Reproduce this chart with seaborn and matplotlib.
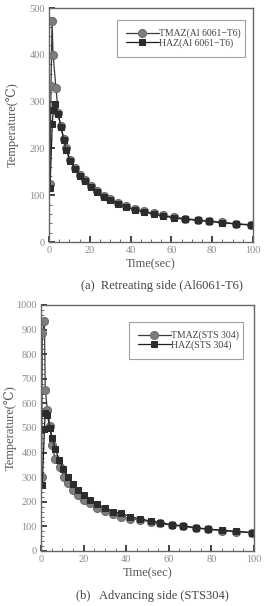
import matplotlib
matplotlib.use("Agg")
import matplotlib.pyplot as plt
import seaborn as sns
import pandas as pd
from matplotlib.ticker import MultipleLocator

# ---- data ----
a_haz_t = [0.5, 1.6, 2.1, 3.1, 4.4, 5.9, 7.2, 8.3, 10.4, 12.6, 15.2, 17.8, 20.4, 23.4, 26.8, 30, 34, 37.7, 42, 46.6, 51.3, 56, 61.4, 66.8, 72.9, 78.6, 85, 91.7, 98.9]
a_haz_T = [115, 253, 282, 294, 273, 245, 219, 197, 174, 157, 141, 130, 117, 107, 97, 90, 81, 75, 68, 65, 59, 56, 51, 49, 46, 44, 41, 38.5, 36]
a_tmaz_t = [0.4, 1.0, 1.5, 2.0, 3.4, 4.5, 5.9, 7.2, 8.3, 10.4, 12.6, 15.2, 17.8, 20.4, 23.4, 26.8, 30, 34, 37.7, 42, 46.6, 51.3, 56, 61.4, 66.8, 72.9, 78.6, 85, 91.7, 98.9]
a_tmaz_T = [125, 333, 472, 400, 330, 275, 247, 221, 200, 176, 159, 143, 132, 119, 109, 99, 92, 83, 77, 70, 66, 61, 57, 53, 50, 47, 45, 42, 39, 37]

b_haz_t = [0.6, 1.6, 2.0, 3.0, 4.2, 5.3, 6.7, 8.6, 10.5, 12.8, 15.2, 17.5, 20.2, 23, 26.4, 30, 34, 37.7, 42, 46.5, 51.5, 56, 61.5, 66.7, 72.8, 78.5, 85, 91.5, 99]
b_haz_T = [268, 495, 560, 553, 499, 458, 415, 370, 332, 300, 272, 248, 228, 207, 191, 174, 160, 153, 140, 130, 122, 115, 107, 102, 95, 89, 84, 80, 75]
b_tmaz_t = [0.3, 0.6, 1.6, 2.0, 3.0, 4.2, 5.2, 6.6, 8.9, 10.8, 12.8, 15.2, 17.5, 20.2, 23, 26.4, 30, 34, 37.7, 42, 46.5, 51.5, 56, 61.5, 66.7, 72.8, 78.5, 85, 91.5, 99]
b_tmaz_T = [300, 885, 935, 654, 573, 508, 431, 376, 340, 302, 275, 248, 228, 207, 194, 174, 163, 149, 140, 132, 126, 119, 112, 105, 100, 93, 88, 83, 79, 74]

labels_a = ["TMAZ(Al 6061\u2212T6)", "HAZ(Al 6061\u2212T6)"]
labels_b = ["TMAZ(STS 304)", "HAZ(STS 304)"]
captions = ["(a)  Retreating side (Al6061-T6)", "(b)   Advancing side (STS304)"]

sns.set_theme(style="white")
plt.rcParams['font.family'] = ['Liberation Serif', 'DejaVu Serif', 'DejaVu Sans']
plt.rcParams['mathtext.default'] = 'regular'

fig = plt.figure(figsize=(2.71, 6.06), dpi=100)
ax1 = fig.add_axes([49/271, 1-242/606, 204/271, 234/606])
ax2 = fig.add_axes([41/271, 1-551/606, 213/271, 246/606])

tick_col = "#8a8a8a"
def draw(ax, tt, tT, ht, hT, labels, ymax, caption, legbox, capx, capy, ylx):
    d1 = pd.DataFrame({"t": tt, "T": tT})
    d2 = pd.DataFrame({"t": ht, "T": hT})
    sns.lineplot(data=d1, x="t", y="T", ax=ax, estimator=None, sort=False,
                 color="#3a3a3a", lw=0.9, marker="o", markersize=5.8,
                 markerfacecolor="#7d7d7d", markeredgecolor="#6e6e6e", label=labels[0])
    sns.lineplot(data=d2, x="t", y="T", ax=ax, estimator=None, sort=False,
                 color="#1e1e1e", lw=0.9, marker="s", markersize=5.0,
                 markerfacecolor="#2c2c2c", markeredgecolor="#2c2c2c", label=labels[1])
    ax.set_xlim(0, 100)
    ax.set_ylim(0, ymax)
    ax.xaxis.set_major_locator(MultipleLocator(20))
    ax.xaxis.set_minor_locator(MultipleLocator(5))
    ax.yaxis.set_major_locator(MultipleLocator(100))
    ax.yaxis.set_minor_locator(MultipleLocator(20))
    ax.tick_params(which="major", direction="in", length=4, width=1.2, color="#222222",
                   labelsize=7.5, labelcolor=tick_col, pad=3)
    ax.tick_params(which="minor", direction="in", length=2, width=0.6, color="#555555")
    ax.tick_params(axis="x", which="both", bottom=True)
    ax.tick_params(axis="y", which="both", left=True)
    for s in ax.spines.values():
        s.set_color("#666666")
        s.set_linewidth(1.0)
    ax.set_xlabel("Time(sec)", fontsize=9, color="#555555", labelpad=2)
    ax.set_ylabel("Temperature(\u2103)", fontsize=9, color="#555555")
    ax.yaxis.set_label_coords(ylx, 0.5)
    leg = ax.legend(loc="upper left", bbox_to_anchor=legbox, mode="expand",
                    fontsize=7, frameon=True, fancybox=False, handlelength=3.4,
                    handletextpad=0.0, labelspacing=0.0, borderpad=0.9, borderaxespad=0)
    leg.get_frame().set_edgecolor("#888888")
    leg.get_frame().set_linewidth(0.8)
    for txt in leg.get_texts():
        txt.set_color("#444444")
    ax.text(capx, capy, caption, transform=ax.transAxes, ha="center", va="center",
            fontsize=9, color="#444444")

draw(ax1, a_tmaz_t, a_tmaz_T, a_haz_t, a_haz_T, labels_a, 500, captions[0],
     (0.333, 0.786, 0.628, 0.163), 0.554, -0.188, -0.147)
draw(ax2, b_tmaz_t, b_tmaz_T, b_haz_t, b_haz_T, labels_b, 1000, captions[1],
     (0.413, 0.789, 0.535, 0.142), 0.523, -0.183, -0.113)

fig.savefig("out.png", dpi=100)
